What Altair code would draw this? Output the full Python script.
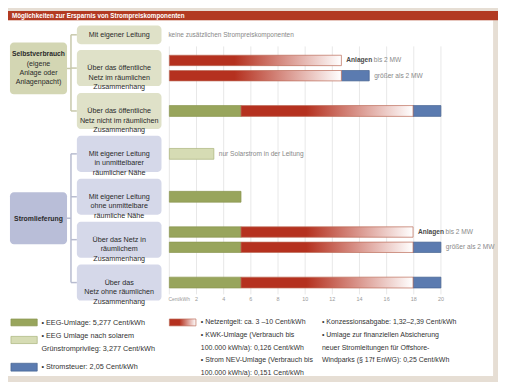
import altair as alt
import pandas as pd

# ---------------- data ----------------
TITLE = "Möglichkeiten zur Ersparnis von Strompreiskomponenten"

row_keys = ["sv_netz_raeuml", "sv_netz_nicht", "sl_eigen_nah",
            "sl_eigen_fern", "sl_netz_raeuml", "sl_netz_ohne"]
row_labels = [
    "Über das öffentliche\nNetz im räumlichen\nZusammenhang",
    "Über das öffentliche\nNetz nicht im räumlichen\nZusammenhang",
    "Mit eigener Leitung\nin unmittelbarer\nräumlicher Nähe",
    "Mit eigener Leitung\nohne unmittelbare\nräumliche Nähe",
    "Über das Netz in\nräumlichem\nZusammenhang",
    "Über das\nNetz ohne räumlichen\nZusammenhang",
]
row_group = ["sv", "sv", "sl", "sl", "sl", "sl"]
first_row_label = "Mit eigener Leitung"
first_row_note = "keine zusätzlichen Strompreiskomponenten"
group_labels = {"sv": ["Selbstverbrauch", "(eigene\nAnlage oder\nAnlagenpacht)"],
                "sl": ["Stromlieferung", ""]}

EEG = 5.277
EEG_SOLAR = 3.277
STEUER = 2.05
NETZ_SOLID = 4.8     # fully red part of the network-charge bar
NETZ_FULL = 12.67    # end of the red-to-white gradient

bar_rows = ["sv_netz_raeuml", "sv_netz_raeuml", "sv_netz_nicht", "sl_eigen_nah",
            "sl_eigen_fern", "sl_netz_raeuml", "sl_netz_raeuml", "sl_netz_ohne"]
bar_subs = ["a", "b", "", "", "", "a", "b", ""]
bar_parts = [["netz"], ["netz", "steuer"], ["eeg", "netz", "steuer"], ["eeg_solar"],
             ["eeg"], ["eeg", "netz"], ["eeg", "netz", "steuer"], ["eeg", "netz", "steuer"]]
part_values = {"eeg": EEG, "eeg_solar": EEG_SOLAR, "netz": NETZ_FULL, "steuer": STEUER}

note_rows = ["sv_netz_raeuml", "sv_netz_raeuml", "sl_eigen_nah", "sl_netz_raeuml", "sl_netz_raeuml"]
note_subs = ["a", "b", "", "a", "b"]
note_bold = ["Anlagen", "", "", "Anlagen", ""]
note_text = ["bis 2 MW", "größer als 2 MW", "nur Solarstrom in der Leitung", "bis 2 MW", "größer als 2 MW"]

tick_values = [0, 2, 4, 6, 8, 10, 12, 14, 16, 18, 20]
tick_labels = ["Cent/kWh", "2", "4", "6", "8", "10", "12", "14", "16", "18", "20"]

legend_col1 = ["• EEG-Umlage: 5,277 Cent/kWh",
               "•  EEG Umlage nach solarem\n\u00a0\u00a0\u00a0Grünstromprivileg: 3,277 Cent/kWh",
               "• Stromsteuer: 2,05 Cent/kWh"]
legend_col2 = ("• Netzentgelt: ca. 3 –10 Cent/kWh\n• KWK-Umlage (Verbrauch bis\n"
               "\u00a0\u00a0100.000 kWh/a): 0,126 Cent/kWh\n• Strom NEV-Umlage (Verbrauch bis\n"
               "\u00a0\u00a0100.000 kWh/a): 0,151 Cent/kWh")
legend_col3 = ("• Konzessionsabgabe: 1,32–2,39 Cent/kWh\n• Umlage zur finanziellen Absicherung\n"
               "\u00a0\u00a0neuer Stromleitungen für Offshore-\n"
               "\u00a0\u00a0Windparks (§ 17f EnWG): 0,25 Cent/kWh")

# ---------------- styling ----------------
FONT = "Liberation Sans"
RED = "#b5311f"
GREEN = "#98a55c"
LGREEN = "#d6dcb4"
BLUE = "#5b7bb0"
BEIGE = "#e6ded4"
TXT = "#2a2a2a"
SV_MAIN, SV_SUB, SV_LINE = "#d3d6b3", "#dfe1c8", "#c7c8aa"
SL_MAIN, SL_SUB, SL_LINE = "#b9bed8", "#d5d8e9", "#b7bbcf"

W, H = 498, 374
one = pd.DataFrame({"k": [0]})

xs = alt.Scale(domain=[0, 20], range=[164, 440], nice=False, zero=False)
# one spare (unused) slot at the bottom keeps the band step at ~43.6 px
ys = alt.Scale(domain=row_keys + ["_spare"], paddingInner=0.16, paddingOuter=0.869, align=0.5237)
yos = alt.Scale(domain=["a", "b"], paddingInner=0.32, paddingOuter=0.34)

rows = []
for r, s, parts in zip(bar_rows, bar_subs, bar_parts):
    start = 0.0
    for p in parts:
        v = part_values[p]
        rows.append(dict(row=r, sub=s, comp=p, x0=start, x1=start + v))
        start += v
bars = pd.DataFrame(rows)

rowdf = pd.DataFrame({"row": row_keys, "label": row_labels, "grp": row_group})

notes = []
for r, s, b, t in zip(note_rows, note_subs, note_bold, note_text):
    end = bars[(bars.row == r) & (bars["sub"] == s)].x1.max()
    notes.append(dict(row=r, sub=s, bold=b, text=t, end=end))
notes = pd.DataFrame(notes)
ticks = pd.DataFrame({"v": tick_values, "lab": tick_labels})


def rect(x, x2, y, y2, **kw):
    return alt.Chart(one).mark_rect(**kw).encode(
        x=alt.value(x), x2=alt.value(x2), y=alt.value(y), y2=alt.value(y2))


def rule(x, x2, y, y2, color):
    return alt.Chart(one).mark_rule(color=color, strokeWidth=1.5).encode(
        x=alt.value(x), x2=alt.value(x2), y=alt.value(y), y2=alt.value(y2))


def txt(s, x, y, size=7.4, weight="normal", color="#333333", align="left", baseline="middle", lh=10):
    return alt.Chart(one).mark_text(
        text=s, font=FONT, fontSize=size, fontWeight=weight, color=color, align=align,
        baseline=baseline, lineBreak="\n", lineHeight=lh).encode(x=alt.value(x), y=alt.value(y))


grad = alt.Gradient(gradient="linear", x1=0, x2=1, y1=0, y2=0, stops=[
    alt.GradientStop(color=RED, offset=0),
    alt.GradientStop(color=RED, offset=NETZ_SOLID / NETZ_FULL),
    alt.GradientStop(color="#ffffff", offset=1)])

solid_color = alt.Color("comp:N", scale=alt.Scale(domain=["eeg", "eeg_solar", "steuer"],
                                                  range=[GREEN, LGREEN, BLUE]), legend=None)
solid_stroke = alt.Stroke("comp:N", scale=alt.Scale(domain=["eeg", "eeg_solar", "steuer"],
                                                    range=["#8a9650", "#a9b37a", "#44618f"]), legend=None)
X = alt.X("x0:Q", scale=xs, axis=None)
Y = alt.Y("row:N", scale=ys, axis=None)
YC = alt.Y("row:N", scale=ys, axis=None, bandPosition=0.5)
YO = alt.YOffset("sub:N", scale=yos)

BX0, BX1, BXC = 70, 156, 113   # sub-box horizontal extent

layers = []
# white panel + title bar
layers.append(rect(0, 493, 9.5, 371, color="white"))
layers.append(rect(0, W, 0, 9.5, color="#b23a22"))
layers.append(txt(TITLE, 4, 5, size=6.4, weight="bold", color="white"))

# grid lines
layers.append(alt.Chart(ticks).mark_rule(color="#e8e8e8", strokeWidth=1).encode(
    x=alt.X("v:Q", scale=xs, axis=None), y=alt.value(36), y2=alt.value(288)))

# main boxes
layers.append(rect(2, 60, 32, 84.7, color=SV_MAIN, cornerRadius=4))
layers.append(rect(2, 60, 184.3, 237, color=SL_MAIN, cornerRadius=4))
layers.append(txt(group_labels["sv"][0], 31, 44.2, size=6.9, weight="bold", align="center", color=TXT))
layers.append(txt(group_labels["sv"][1], 31, 50.3, size=7.2, align="center", baseline="top", lh=9,
                  color=TXT))
layers.append(txt(group_labels["sl"][0], 31, 211, size=7, weight="bold", align="center", color=TXT))

# connectors
layers.append(rule(64, 64, 24.2, 101.6, SV_LINE))
layers.append(rule(60, 64, 58.4, 58.4, SV_LINE))
layers.append(rule(64, BX0, 24.2, 24.2, SV_LINE))
layers.append(rule(64, 64, 145.2, 276, SL_LINE))
layers.append(rule(60, 64, 210.6, 210.6, SL_LINE))
for g, col in (("sv", SV_LINE), ("sl", SL_LINE)):
    layers.append(alt.Chart(rowdf).transform_filter(f"datum.grp == '{g}'").mark_rule(
        color=col, strokeWidth=1.5).encode(y=YC, x=alt.value(64), x2=alt.value(BX0)))

# first (unscaled) sub box
layers.append(rect(BX0, BX1, 14.7, 33.7, color=SV_SUB, cornerRadius=4))
layers.append(txt(first_row_label, BXC, 24.2, size=7.3, align="center", color=TXT))
layers.append(txt(first_row_note, 163, 24.5, size=6.6, color="#888888"))

# sub boxes
for g, col in (("sv", SV_SUB), ("sl", SL_SUB)):
    layers.append(alt.Chart(rowdf).transform_filter(f"datum.grp == '{g}'").mark_rect(
        cornerRadius=4, color=col).encode(y=Y, x=alt.value(BX0), x2=alt.value(BX1)))
layers.append(alt.Chart(rowdf).mark_text(font=FONT, fontSize=7.3, color=TXT,
                                         align="center", baseline="middle", lineBreak="\n",
                                         lineHeight=9.8).encode(y=YC, x=alt.value(BXC), text="label:N"))

# bars
layers.append(alt.Chart(bars).transform_filter("datum.comp != 'netz' && datum.sub != ''").mark_bar(
    strokeWidth=0.7).encode(x=X, x2="x1:Q", y=Y, yOffset=YO, color=solid_color, stroke=solid_stroke))
layers.append(alt.Chart(bars).transform_filter("datum.comp != 'netz' && datum.sub == ''").mark_bar(
    height=11, strokeWidth=0.7).encode(x=X, x2="x1:Q", y=Y, color=solid_color, stroke=solid_stroke))
layers.append(alt.Chart(bars).transform_filter("datum.comp == 'netz' && datum.sub != ''").mark_bar(
    color=grad, stroke="#bb6a58", strokeWidth=0.7).encode(x=X, x2="x1:Q", y=Y, yOffset=YO))
layers.append(alt.Chart(bars).transform_filter("datum.comp == 'netz' && datum.sub == ''").mark_bar(
    height=11, color=grad, stroke="#bb6a58", strokeWidth=0.7).encode(x=X, x2="x1:Q", y=Y))

# notes beside bars
NX = alt.X("end:Q", scale=xs, axis=None)
for cond, extra in (("datum.sub != ''", {"yOffset": YO}), ("datum.sub == ''", {})):
    layers.append(alt.Chart(notes).transform_filter(cond + " && datum.bold != ''").mark_text(
        font=FONT, fontSize=6.7, fontWeight="bold", color="#4a4a4a", align="left", baseline="middle",
        dx=5).encode(x=NX, y=Y, text="bold:N", **extra))
    layers.append(alt.Chart(notes).transform_filter(cond + " && datum.bold != ''").mark_text(
        font=FONT, fontSize=6.7, color="#888888", align="left", baseline="middle",
        dx=33).encode(x=NX, y=Y, text="text:N", **extra))
    layers.append(alt.Chart(notes).transform_filter(cond + " && datum.bold == ''").mark_text(
        font=FONT, fontSize=6.7, color="#888888", align="left", baseline="middle",
        dx=5).encode(x=NX, y=Y, text="text:N", **extra))

# axis labels
layers.append(alt.Chart(ticks).transform_filter("datum.v > 0").mark_text(
    font=FONT, fontSize=5.5, color="#9a9a9a", baseline="middle").encode(
    x=alt.X("v:Q", scale=xs, axis=None), y=alt.value(293), text="lab:N"))
layers.append(alt.Chart(ticks).transform_filter("datum.v == 0").mark_text(
    font=FONT, fontSize=5, color="#9a9a9a", baseline="middle", align="left", dx=-1).encode(
    x=alt.X("v:Q", scale=xs, axis=None), y=alt.value(293), text="lab:N"))

# legend
layers.append(rect(3, 29.7, 313, 320, color=GREEN, stroke="#8a9650", strokeWidth=0.7))
layers.append(rect(3, 29.7, 330.7, 338, color=LGREEN, stroke="#a9b37a", strokeWidth=0.7))
layers.append(rect(3, 29.7, 358, 366, color=BLUE, stroke="#44618f", strokeWidth=0.7))
layers.append(rect(164, 191, 313, 320, color=grad, stroke="#bb6a58", strokeWidth=0.7))
layers.append(txt(legend_col1[0], 34, 317))
layers.append(txt(legend_col1[1], 34, 326.3, baseline="top", lh=12.8))
layers.append(txt(legend_col1[2], 34, 362))
layers.append(txt(legend_col2, 196, 312.5, size=7.1, baseline="top", lh=12.8))
layers.append(txt(legend_col3, 319, 312.5, size=7.1, baseline="top", lh=12.8))

chart = alt.layer(*layers).properties(
    width=W, height=H, background=BEIGE, padding=0, autosize="none"
).configure_view(stroke=None)

chart.save("out.html", embed_options={"renderer": "svg", "actions": False})
